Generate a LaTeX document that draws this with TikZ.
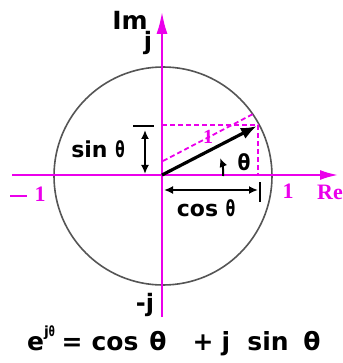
\documentclass[tikz,border=0pt]{standalone}
\usepackage{fontspec}
\setmainfont{DejaVu Sans}
\newfontfamily\serifm{Liberation Serif}
\usetikzlibrary{arrows.meta}
\definecolor{mag}{RGB}{235,0,235}
\definecolor{circ}{RGB}{85,85,85}
\newcommand\nth{\scalebox{0.62}[1]{θ}}
\begin{document}
\begin{tikzpicture}[x=1pt,y=-1pt,
  axis/.style={mag, line width=2pt},
  mdashed/.style={mag, line width=1.8pt, dash pattern=on 5pt off 3pt},
  lbl/.style={font=\fontsize{22}{24}\selectfont\bfseries, text=black, inner sep=0pt},
  eqn/.style={font=\fontsize{25}{27}\selectfont\bfseries, text=black, inner sep=0pt, anchor=base},
  mlbl/.style={font=\serifm\fontsize{22}{24}\selectfont\bfseries, text=mag, inner sep=0pt},
  dimarrow/.style={black, line width=1.8pt, {Latex[length=9pt,width=8pt]}-{Latex[length=9pt,width=8pt]}},
  tick/.style={black, line width=2pt},
]
\useasboundingbox (0,0) rectangle (342,363);
\coordinate (O) at (162,175);
% unit circle
\draw[circ, line width=1.6pt] (163,176) circle [radius=109pt];
% axes
\coordinate (xl) at (12,175);
\coordinate (xr) at (338,175);
\coordinate (yb) at (162,317);
\coordinate (yt) at (162,12);
\draw[axis, -{Latex[length=18pt,width=10pt]}] (xl) -- (xr);
\draw[axis, -{Latex[length=22pt,width=11pt]}] (yb) -- (yt);
% projection dashed lines
\coordinate (P) at (258,125);
\coordinate (Py) at (162,125);
\coordinate (Px) at (258,175);
\draw[mdashed] (Py) -- (P) -- (Px);
% dashed unit-length line
\coordinate (u1) at (163,161);
\coordinate (u2) at (255,113);
\draw[mdashed] (u1) -- (u2);
\node[mlbl, font=\serifm\fontsize{20}{20}\selectfont\bfseries] (one) at (208,137) {1};
% vector
\draw[black, line width=3.2pt, -{Latex[length=16pt,width=12pt]}] (O) -- (257,126);
% angle arrow
\coordinate (a1) at (223,176);
\coordinate (a2) at (220,158);
\draw[black, line width=2pt, -{Latex[length=9pt,width=8pt]}] (a1) to[bend right=12] (a2);
\node[lbl, font=\fontsize{22}{22}\selectfont\bfseries] (th) at (244,162) {\scalebox{0.85}[1]{θ}};
% sin
\coordinate (st1) at (133,126);
\coordinate (st2) at (154,126);
\draw[tick] (st1) -- (st2);
\coordinate (s1) at (145,130);
\coordinate (s2) at (145,174);
\draw[dimarrow] (s1) -- (s2);
\node[lbl] (sin) at (98,149) {sin \nth};
% cos
\coordinate (c1) at (164,190);
\coordinate (c2) at (258,190);
\draw[dimarrow] (c1) -- (c2);
\coordinate (ct1) at (260,182);
\coordinate (ct2) at (260,202);
\draw[tick] (ct1) -- (ct2);
\node[lbl] (cos) at (206,208) {cos \nth};
% axis labels
\node[lbl, font=\fontsize{25}{26}\selectfont\bfseries] (Im) at (130,20) {Im};
\node[lbl, font=\fontsize{24}{26}\selectfont\bfseries] (j) at (148,43) {j};
\node[lbl, font=\fontsize{24}{26}\selectfont\bfseries] (mj) at (145,305) {-j};
\node[mlbl] (m1) at (28,194) {\rule[0.2em]{0.75em}{0.1em}\hspace{0.35em}1};
\node[mlbl] (p1) at (288,191) {1};
\node[mlbl] (Re) at (330,192) {Re};
% equation
\node[eqn, anchor=base west] (eq1) at (27,350) {e\raisebox{0.55em}{\fontsize{14}{14}\selectfont j\nth}};
\node[eqn] (eq2) at (72,350) {=};
\node[eqn] (eq3) at (115,350) {cos};
\node[eqn] (eq4) at (158,350) {θ};
\node[eqn] (eq5) at (203,350) {+};
\node[eqn] (eq6) at (226,350) {j};
\node[eqn] (eq7) at (268,350) {sin};
\node[eqn] (eq8) at (312,350) {θ};
\end{tikzpicture}
\end{document}
